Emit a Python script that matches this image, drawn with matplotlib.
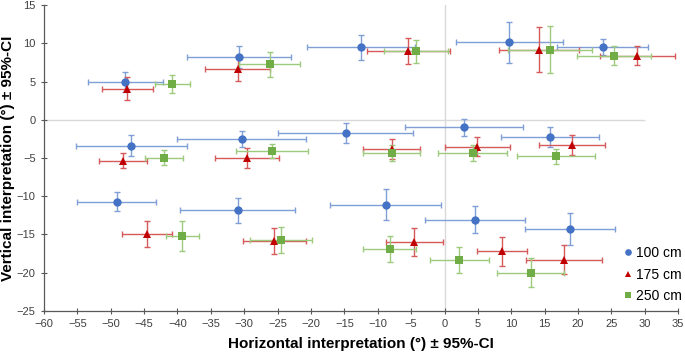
import matplotlib
matplotlib.use("Agg")
import matplotlib.pyplot as plt

plt.rcParams['font.family'] = ['Liberation Sans', 'DejaVu Sans']

labels = ["100 cm", "175 cm", "250 cm"]

x_100 = [-47.8, -30.8, -12.5, 9.7, 23.7, -46.9, -30.4, -14.8, 2.9, 15.8, -49.1, -31.0, -8.8, 4.6, 18.8]
y_100 = [4.9, 8.2, 9.5, 10.15, 9.6, -3.4, -2.5, -1.7, -1.0, -2.3, -10.7, -11.85, -11.1, -13.1, -14.3]
xerr_100 = [5.6, 7.75, 8.1, 8.0, 6.85, 8.35, 9.6, 10.1, 8.8, 7.4, 5.9, 8.6, 8.3, 7.5, 6.7]
yerr_100 = [1.3, 1.45, 1.6, 2.7, 1.05, 1.4, 1.1, 1.3, 1.1, 1.3, 1.2, 1.6, 2.0, 1.75, 2.15]

x_175 = [-47.5, -31.0, -5.4, 14.2, 28.9, -48.2, -29.6, -7.9, 4.9, 19.1, -44.5, -25.5, -4.5, 8.6, 17.95]
y_175 = [4.1, 6.7, 9.05, 9.2, 8.4, -5.35, -5.0, -3.8, -3.5, -3.35, -14.95, -15.9, -16.0, -17.2, -18.3]
xerr_175 = [3.8, 4.9, 6.15, 6.0, 5.65, 3.6, 4.8, 4.25, 4.85, 5.0, 3.75, 4.7, 4.2, 3.75, 5.7]
yerr_175 = [1.5, 1.6, 1.7, 2.95, 1.25, 1.0, 1.3, 1.3, 1.2, 1.3, 1.75, 1.7, 1.8, 1.9, 1.9]

x_250 = [-40.8, -26.2, -4.3, 15.8, 25.4, -42.0, -25.8, -7.9, 4.25, 16.7, -39.3, -24.5, -8.2, 2.2, 12.9]
y_250 = [4.7, 7.25, 9.0, 9.2, 8.4, -4.95, -4.1, -4.35, -4.35, -4.8, -15.2, -15.7, -16.9, -18.4, -20.0]
xerr_250 = [2.6, 4.6, 4.8, 6.3, 5.5, 2.85, 5.4, 4.3, 5.15, 5.8, 2.45, 4.6, 4.0, 4.4, 5.0]
yerr_250 = [1.15, 1.65, 1.5, 3.05, 1.25, 0.95, 0.9, 1.0, 1.0, 1.0, 2.0, 1.7, 1.7, 1.7, 1.9]

x_ticks = list(range(-60, 36, 5))
y_ticks = list(range(-25, 16, 5))

series = [
    (x_100, y_100, xerr_100, yerr_100, "o", "#4472C4", "#7F9FD6", labels[0]),
    (x_175, y_175, xerr_175, yerr_175, "^", "#C00000", "#D65A5A", labels[1]),
    (x_250, y_250, xerr_250, yerr_250, "s", "#70AD47", "#9CCB7E", labels[2]),
]

fig = plt.figure(figsize=(6.85, 3.54), dpi=100)
ax = fig.add_axes([0.0642, 0.1223, 0.9258, 0.8627])

ax.hlines(0, -60, 30, color="#D9D9D9", lw=1.0, zorder=0)
ax.axvline(0, color="#D9D9D9", lw=1.0, zorder=0)

handles = []
for xs, ys, xe, ye, m, c, ec, lab in series:
    ax.errorbar(xs, ys, xerr=xe, yerr=ye, fmt="none", ecolor=ec,
                elinewidth=1.0, capsize=2, capthick=1.0, zorder=2)
    h, = ax.plot(xs, ys, linestyle="none", marker=m, color=c,
                 markersize=6, markeredgewidth=0, zorder=3, label=lab)
    handles.append(h)

ax.set_xlim(-60, 35)
ax.set_ylim(-25, 15)
ax.set_xticks(x_ticks)
ax.set_yticks(y_ticks)
ax.tick_params(direction="inout", length=5, width=0.8, color="#595959",
               labelsize=8, labelcolor="#404040")
for s in ["top", "right"]:
    ax.spines[s].set_visible(False)
for s in ["left", "bottom"]:
    ax.spines[s].set_color("#595959")
    ax.spines[s].set_linewidth(0.9)

ax.set_xlabel("Horizontal interpretation (°) ± 95%-CI", fontsize=11,
              fontweight="bold", labelpad=6)
ax.set_ylabel("Vertical interpretation (°) ± 95%-CI", fontsize=11,
              fontweight="bold")
ax.yaxis.set_label_coords(-0.046, 0.5)

leg = ax.legend(handles=handles, loc="upper left",
                bbox_to_anchor=(617 / 685, 1 - 239 / 354),
                bbox_transform=fig.transFigure, frameon=False,
                fontsize=10, handlelength=0.6, handletextpad=0.25,
                labelspacing=0.55, borderpad=0, markerscale=0.8)

fig.savefig("out.png", dpi=100)
